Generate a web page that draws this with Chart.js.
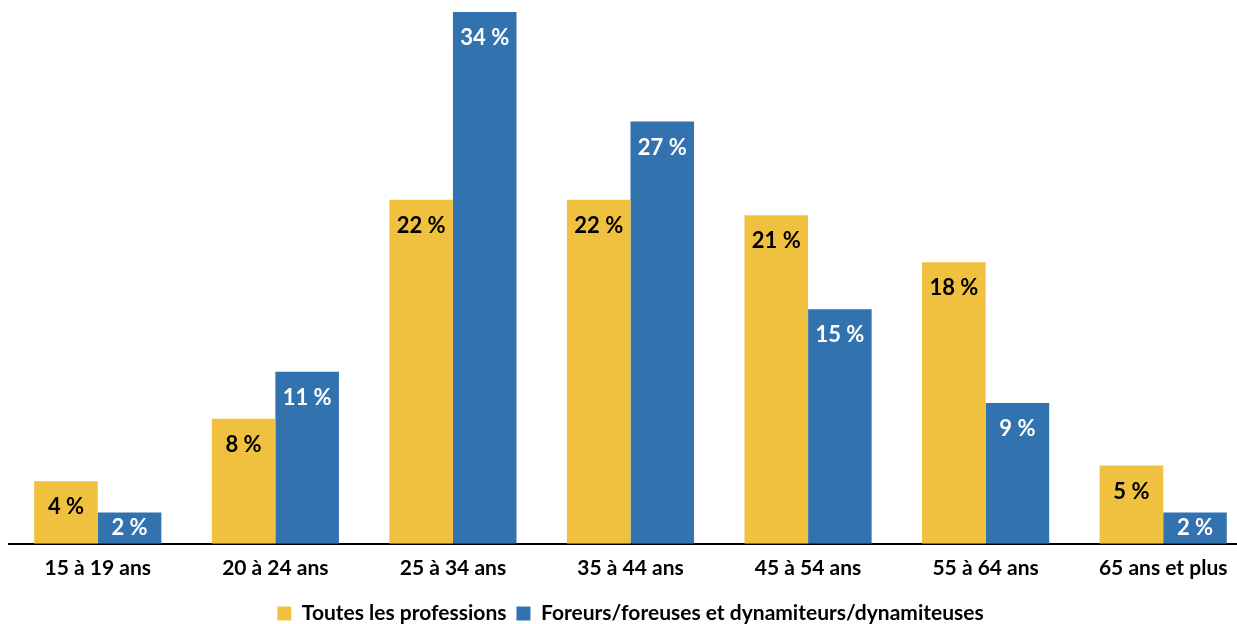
<!DOCTYPE html>
<html lang="fr">
<head>
<meta charset="utf-8">
<script src="https://cdn.jsdelivr.net/npm/chart.js@4/dist/chart.umd.min.js"></script>
<style>
  html, body { margin: 0; padding: 0; background: #fff; overflow: hidden; }
  #wrap { position: relative; width: 1252px; height: 624px; }
</style>
</head>
<body>
<div id="wrap"><canvas id="chart-ages"></canvas></div>
<script>
// Répartition par groupe d'âge (%)
const groupesAge = ['15 à 19 ans', '20 à 24 ans', '25 à 34 ans', '35 à 44 ans', '45 à 54 ans', '55 à 64 ans', '65 ans et plus'];
const toutesProfessions = [4, 8, 22, 22, 21, 18, 5];
const foreursDynamiteurs = [2, 11, 34, 27, 15, 9, 2];
const nomsSeries = ['Toutes les professions', 'Foreurs/foreuses et dynamiteurs/dynamiteuses'];

const JAUNE = '#F0C03F';
const BLEU = '#3273AF';
const POLICE = 'Lato, "Open Sans", sans-serif';

// Étiquettes de valeur dans le haut de chaque barre
const etiquettesBarres = {
  id: 'etiquettesBarres',
  afterDatasetsDraw(chart) {
    const ctx = chart.ctx;
    ctx.save();
    ctx.font = 'bold 22px ' + POLICE;
    ctx.textAlign = 'center';
    ctx.textBaseline = 'middle';
    chart.data.datasets.forEach((ds, i) => {
      chart.getDatasetMeta(i).data.forEach((bar, j) => {
        const hauteur = bar.base - bar.y;
        const decalage = Math.min(26, hauteur / 2);
        ctx.fillStyle = i === 0 ? '#000' : '#fff';
        ctx.fillText(ds.data[j] + ' %', bar.x, bar.y + decalage);
      });
    });
    ctx.restore();
  }
};

new Chart(document.getElementById('chart-ages').getContext('2d'), {
  type: 'bar',
  data: {
    labels: groupesAge,
    datasets: [
      { label: nomsSeries[0], data: toutesProfessions, backgroundColor: JAUNE },
      { label: nomsSeries[1], data: foreursDynamiteurs, backgroundColor: BLEU }
    ]
  },
  options: {
    responsive: true,
    maintainAspectRatio: false,
    animation: false,
    datasets: { bar: { categoryPercentage: 0.716, barPercentage: 1 } },
    layout: { padding: { left: 9, top: 12, right: 0, bottom: -10 } },
    plugins: {
      tooltip: { enabled: false },
      legend: {
        position: 'bottom',
        labels: {
          color: '#000',
          font: { family: POLICE, size: 21, weight: 'bold' },
          boxWidth: 14,
          boxHeight: 14,
          padding: 10
        }
      }
    },
    scales: {
      y: { display: false, min: 0, max: 34 },
      x: {
        grid: { display: false, drawTicks: false },
        border: { display: true, color: '#000', width: 2 },
        ticks: { color: '#000', padding: 12, font: { family: POLICE, size: 21, weight: 'bold' } }
      }
    }
  },
  plugins: [etiquettesBarres]
});
</script>
</body>
</html>
